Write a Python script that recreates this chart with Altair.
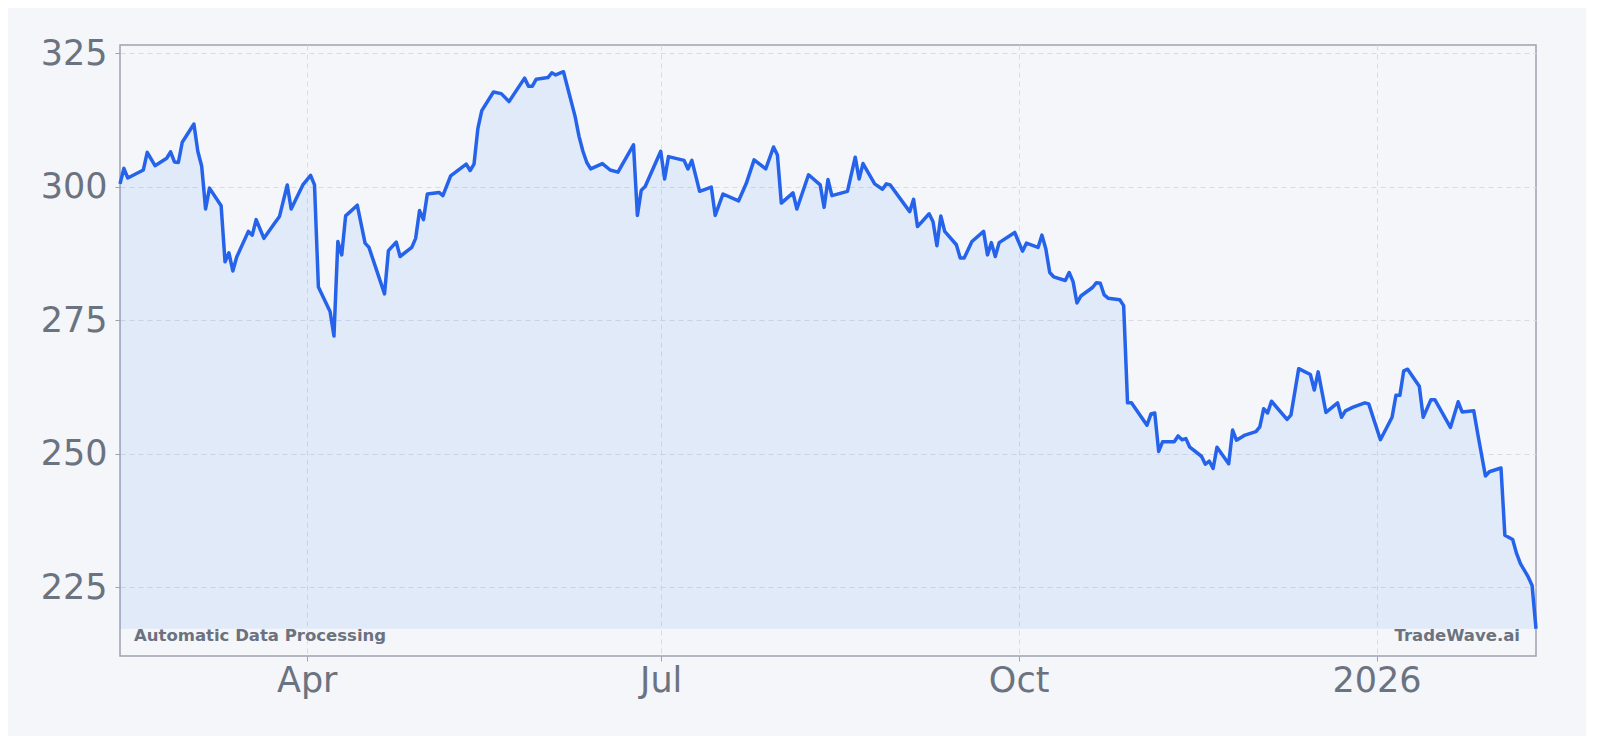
import pandas as pd
import altair as alt

company = "Automatic Data Processing"
brand = "TradeWave.ai"

# closing prices (turning points)
dates = [
    "2025-02-12", "2025-02-13", "2025-02-14", "2025-02-18", "2025-02-19", "2025-02-21",
    "2025-02-24", "2025-02-25", "2025-02-26", "2025-02-27", "2025-02-28", "2025-03-03",
    "2025-03-04", "2025-03-05", "2025-03-06", "2025-03-07", "2025-03-10", "2025-03-11",
    "2025-03-12", "2025-03-13", "2025-03-14", "2025-03-17", "2025-03-18", "2025-03-19",
    "2025-03-21", "2025-03-24", "2025-03-25", "2025-03-27", "2025-03-28", "2025-03-31",
    "2025-04-02", "2025-04-03", "2025-04-04", "2025-04-07", "2025-04-08", "2025-04-09",
    "2025-04-10", "2025-04-11", "2025-04-14", "2025-04-16", "2025-04-17", "2025-04-21",
    "2025-04-22", "2025-04-24", "2025-04-25", "2025-04-28", "2025-04-29", "2025-04-30",
    "2025-05-01", "2025-05-02", "2025-05-05", "2025-05-06", "2025-05-08", "2025-05-12",
    "2025-05-13", "2025-05-14", "2025-05-15", "2025-05-16", "2025-05-19", "2025-05-21",
    "2025-05-23", "2025-05-27", "2025-05-28", "2025-05-29", "2025-05-30", "2025-06-02",
    "2025-06-03", "2025-06-04", "2025-06-06", "2025-06-09", "2025-06-10", "2025-06-11",
    "2025-06-12", "2025-06-13", "2025-06-16", "2025-06-18", "2025-06-20", "2025-06-24",
    "2025-06-25", "2025-06-26", "2025-06-27", "2025-07-01", "2025-07-02", "2025-07-03",
    "2025-07-07", "2025-07-08", "2025-07-09", "2025-07-11", "2025-07-14", "2025-07-15",
    "2025-07-17", "2025-07-21", "2025-07-23", "2025-07-25", "2025-07-28", "2025-07-30",
    "2025-07-31", "2025-08-01", "2025-08-04", "2025-08-05", "2025-08-08", "2025-08-11",
    "2025-08-12", "2025-08-13", "2025-08-14", "2025-08-18", "2025-08-20", "2025-08-21",
    "2025-08-22", "2025-08-25", "2025-08-27", "2025-08-28", "2025-08-29", "2025-09-03",
    "2025-09-04", "2025-09-05", "2025-09-08", "2025-09-09", "2025-09-10", "2025-09-11",
    "2025-09-12", "2025-09-15", "2025-09-16", "2025-09-17", "2025-09-19", "2025-09-22",
    "2025-09-23", "2025-09-24", "2025-09-25", "2025-09-26", "2025-09-30", "2025-10-02",
    "2025-10-03", "2025-10-06", "2025-10-07", "2025-10-08", "2025-10-09", "2025-10-10",
    "2025-10-13", "2025-10-14", "2025-10-15", "2025-10-16", "2025-10-17", "2025-10-20",
    "2025-10-21", "2025-10-22", "2025-10-23", "2025-10-24", "2025-10-27", "2025-10-28",
    "2025-10-29", "2025-10-30", "2025-11-03", "2025-11-04", "2025-11-05", "2025-11-06",
    "2025-11-07", "2025-11-10", "2025-11-11", "2025-11-12", "2025-11-13", "2025-11-14",
    "2025-11-17", "2025-11-18", "2025-11-19", "2025-11-20", "2025-11-21", "2025-11-24",
    "2025-11-25", "2025-11-26", "2025-11-28", "2025-12-01", "2025-12-02", "2025-12-03",
    "2025-12-04", "2025-12-05", "2025-12-09", "2025-12-10", "2025-12-12", "2025-12-15",
    "2025-12-16", "2025-12-17", "2025-12-19", "2025-12-22", "2025-12-23", "2025-12-24",
    "2025-12-26", "2025-12-29", "2025-12-30", "2026-01-02", "2026-01-05", "2026-01-06",
    "2026-01-07", "2026-01-08", "2026-01-09", "2026-01-12", "2026-01-13", "2026-01-15",
    "2026-01-16", "2026-01-20", "2026-01-22", "2026-01-23", "2026-01-26", "2026-01-27",
    "2026-01-29", "2026-01-30", "2026-02-02", "2026-02-03", "2026-02-05", "2026-02-06",
    "2026-02-07", "2026-02-09", "2026-02-10", "2026-02-11",
]
prices = [
    300.5, 303.4, 301.6, 303.1, 306.4, 303.9,
    305.3, 306.5, 304.6, 304.5, 308.3, 311.7,
    306.6, 303.8, 295.8, 299.7, 296.4, 285.9,
    287.6, 284.2, 286.8, 291.6, 290.9, 293.8,
    290.3, 293.4, 294.4, 300.3, 295.8, 300.3,
    302.1, 300.3, 281.2, 276.6, 272.0, 289.7,
    287.2, 294.5, 296.5, 289.4, 288.6, 279.9,
    288.0, 289.6, 286.9, 288.6, 290.3, 295.5,
    293.8, 298.6, 298.9, 298.3, 302.0, 304.2,
    303.0, 304.2, 310.9, 314.2, 317.7, 317.4,
    315.9, 320.3, 318.8, 318.8, 320.1, 320.4,
    321.3, 320.9, 321.5, 313.1, 309.4, 306.6,
    304.5, 303.3, 304.3, 303.1, 302.7, 307.8,
    294.6, 299.3, 300.0, 306.6, 301.4, 305.6,
    304.9, 303.3, 304.9, 299.1, 299.9, 294.6,
    298.6, 297.3, 300.6, 305.0, 303.3, 307.4,
    305.9, 296.9, 298.8, 295.8, 302.2, 300.3,
    296.1, 301.3, 298.3, 299.1, 305.5, 301.4,
    304.3, 300.5, 299.5, 300.5, 300.3, 295.3,
    297.6, 292.5, 294.9, 293.4, 288.9, 294.5,
    291.6, 289.1, 286.6, 286.6, 289.7, 291.6,
    287.2, 289.5, 286.9, 289.5, 291.4, 287.9,
    289.4, 288.6, 290.9, 288.3, 283.9, 283.1,
    282.4, 283.9, 282.2, 278.2, 279.5, 281.1,
    282.0, 281.9, 279.7, 279.1, 278.8, 277.7,
    259.5, 259.5, 255.3, 257.4, 257.6, 250.4,
    252.2, 252.2, 253.3, 252.6, 252.8, 251.2,
    249.5, 248.0, 248.6, 247.2, 251.2, 248.1,
    254.4, 252.5, 253.4, 254.1, 255.0, 258.4,
    257.6, 259.8, 256.4, 257.2, 265.9, 264.8,
    261.9, 265.3, 257.7, 259.5, 256.8, 258.0,
    258.7, 259.5, 259.3, 252.6, 256.8, 260.9,
    260.9, 265.5, 265.8, 262.6, 256.8, 260.1,
    260.1, 254.9, 259.7, 257.8, 258.0, 253.8,
    245.8, 246.6, 247.3, 234.7, 233.9, 231.3,
    229.4, 226.9, 225.3, 217.2,
]

y_ticks = [225, 250, 275, 300, 325]
x_ticks = [(2025, 4), (2025, 7), (2025, 10), (2026, 1)]

df = pd.DataFrame({"date": dates, "price": prices})
baseline = min(prices)

gray = "#6b7280"
blue = "#2563eb"
W, H = 1416, 611

x = alt.X(
    "date:T",
    scale=alt.Scale(
        type="utc",
        domain=[alt.DateTime(year=2025, month=2, date=12, utc=True),
                alt.DateTime(year=2026, month=2, date=11, utc=True)],
    ),
    axis=alt.Axis(
        title=None,
        values=[alt.DateTime(year=yy, month=mm, date=1, utc=True) for yy, mm in x_ticks],
        labelExpr="utcFormat(datum.value, utcmonth(datum.value) == 0 ? '%Y' : '%b')",
        labelPadding=2,
    ),
)
y = alt.Y(
    "price:Q",
    scale=alt.Scale(domain=[212.1, 326.5], nice=False, zero=False),
    axis=alt.Axis(title=None, values=y_ticks, labelPadding=8),
)

base = alt.Chart(df)
area = base.mark_area(color="#3b82f6", opacity=0.1).encode(x=x, y=y, y2=alt.datum(baseline))
line = base.mark_line(color=blue, strokeWidth=3.5, strokeJoin="round").encode(x=x, y=y)

left_txt = alt.Chart(pd.DataFrame({"t": [company]})).mark_text(
    align="left", baseline="alphabetic", fontSize=16.5, fontWeight="bold", color=gray
).encode(x=alt.value(14), y=alt.value(H - 15), text="t:N")
right_txt = alt.Chart(pd.DataFrame({"t": [brand]})).mark_text(
    align="right", baseline="alphabetic", fontSize=16.5, fontWeight="bold", color=gray
).encode(x=alt.value(W - 16), y=alt.value(H - 15), text="t:N")

chart = alt.layer(area, line, left_txt, right_txt).properties(
    width=W,
    height=H,
    background="#f4f6f9",
    autosize=alt.AutoSizeParams(type="none"),
    padding={"left": 112, "top": 37, "right": 50, "bottom": 80},
).configure(
    font="DejaVu Sans",
).configure_view(
    stroke="#9ca3af",
    strokeWidth=1.5,
).configure_axis(
    labelFont="DejaVu Sans",
    labelFontSize=35,
    labelColor=gray,
    domain=False,
    tickColor="#9ca3af",
    tickSize=5,
    grid=True,
    gridColor="#d8dce2",
    gridDash=[5, 4],
    gridWidth=1,
)

chart.save("out.html", embed_options={"renderer": "svg", "actions": False})
